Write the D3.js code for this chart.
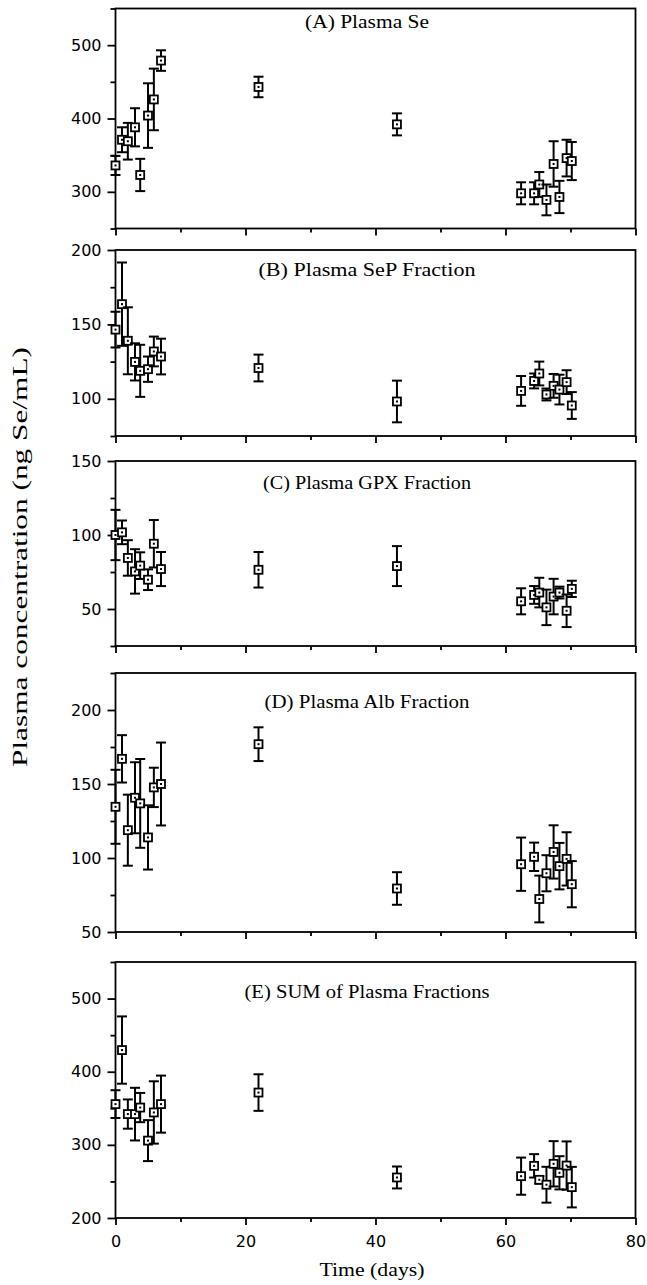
<!DOCTYPE html>
<html><head><meta charset="utf-8">
<script src="https://cdn.jsdelivr.net/npm/d3@7"></script>
<style>body{margin:0;background:#fff;} svg{display:block}</style>
</head><body>
<script>
// ---- data ----
const days = [0, 1, 1.9, 3, 3.8, 5, 5.9, 7, 22, 43.3, 62.4, 64.4, 65.2, 66.3, 67.4, 68.3, 69.4, 70.2];

const seMean  = [336, 371, 369, 388, 323, 404, 426, 479, 443, 392, 298, 298, 310, 289, 338, 293, 346, 342];
const seErr   = [13, 17, 25, 26, 22, 44, 42, 14, 14, 15, 15, 15, 17, 21, 31, 22, 25, 26];

const sepMean = [146.5, 163.6, 139, 124.8, 118.8, 119.9, 131.8, 128.4, 120.7, 98.2, 105.3, 112, 117, 102.9, 108.7, 106.2, 111.2, 95.5];
const sepErr  = [12, 28, 22.5, 12.5, 17.5, 8.5, 10, 12, 9, 14, 10, 5, 8, 4, 8, 10, 8, 9];

const gpxMean = [100, 101.8, 84.5, 75.4, 79.3, 69.8, 94.1, 77, 76.5, 79, 55.2, 59.5, 61.1, 51.1, 58.4, 61.1, 48.8, 63.6];
const gpxErr  = [17, 8, 12, 15, 9, 7, 16, 11.5, 12, 13.5, 8.8, 6, 10, 12, 12, 4, 11, 5.5];

const albMean = [134.6, 167, 118.8, 140.7, 136.9, 113.9, 147.7, 150, 176.9, 79.4, 95.8, 100.8, 72.3, 89.7, 104.1, 94.5, 99.4, 82.3];
const albErr  = [25, 16, 24, 24, 30, 21.7, 13.3, 28, 11.4, 11, 18, 9.6, 15.8, 12.2, 18, 15.7, 18, 15.6];

const sumMean = [355.7, 429.6, 342.1, 342, 351, 305.8, 344.3, 355.7, 371.5, 255.4, 257.2, 271.3, 252.2, 245.5, 274.1, 261.8, 271.7, 242.2];
const sumErr  = [19, 46, 20, 36, 20, 28, 42.6, 39, 25, 15, 25.4, 16, 5, 24.5, 31, 22.7, 33, 27.7];

const titles = ["(A) Plasma Se", "(B) Plasma SeP Fraction", "(C) Plasma GPX Fraction", "(D) Plasma Alb Fraction", "(E) SUM of Plasma Fractions"];
const yDomains = [[250, 550], [75, 200], [25, 150], [50, 225], [200, 550]];
const yMajor = [[300, 400, 500], [100, 150, 200], [50, 100, 150], [50, 100, 150, 200], [200, 300, 400, 500]];
const yMinorStep = [50, 25, 25, 25, 50];
const xTicks = [0, 20, 40, 60, 80];
const xMinor = [10, 30, 50, 70];
const xLabel = "Time (days)";
const yLabel = "Plasma concentration (ng Se/mL)";

// ---- layout ----
const W = 647, H = 1285;
const panelBox = [[8.5, 228.5], [250, 436], [461, 646], [673, 932], [962, 1218]];
const titleY = [28, 276, 489, 708, 998];
const titleW = [124, 217, 208, 205, 245];
const means = [seMean, sepMean, gpxMean, albMean, sumMean];
const errs = [seErr, sepErr, gpxErr, albErr, sumErr];

const svg = d3.select("body").append("svg").attr("width", W).attr("height", H);
const x = d3.scaleLinear().domain([0, 80]).range([115.5, 635.5]);

panelBox.forEach((pb, i) => {
  const y = d3.scaleLinear().domain(yDomains[i]).range([pb[1], pb[0]]);
  const g = svg.append("g");
  // frame
  g.append("rect").attr("x", x(0)).attr("y", pb[0]).attr("width", x(80) - x(0)).attr("height", pb[1] - pb[0])
    .attr("fill", "none").attr("stroke", "#000").attr("stroke-width", 1.8);
  // y axis major
  const ya = d3.axisLeft(y).tickValues(yMajor[i]).tickSize(8).tickFormat(d3.format("d"));
  const yag = g.append("g").attr("transform", `translate(${x(0)},0)`).call(ya);
  yag.select(".domain").remove();
  yag.selectAll("line").attr("stroke-width", 1.8);
  yag.selectAll("text").attr("font-family", "DejaVu Sans").attr("font-size", 16).attr("fill", "#000").attr("x", -14);
  // y minor
  const minors = d3.range(yDomains[i][0], yDomains[i][1] + 0.1, yMinorStep[i]).filter(v => !yMajor[i].includes(v));
  const ym = d3.axisLeft(y).tickValues(minors).tickSize(5).tickFormat("");
  const ymg = g.append("g").attr("transform", `translate(${x(0)},0)`).call(ym);
  ymg.select(".domain").remove();
  ymg.selectAll("line").attr("stroke-width", 1.8);
  // x axis
  const xa = d3.axisBottom(x).tickValues(xTicks).tickSize(7).tickFormat(i === 4 ? d3.format("d") : "");
  const xag = g.append("g").attr("transform", `translate(0,${pb[1]})`).call(xa);
  xag.select(".domain").remove();
  xag.selectAll("line").attr("stroke-width", 1.8);
  xag.selectAll("text").attr("font-family", "DejaVu Sans").attr("font-size", 16).attr("fill", "#000").attr("y", 18);
  const xm = d3.axisBottom(x).tickValues(xMinor).tickSize(4).tickFormat("");
  const xmg = g.append("g").attr("transform", `translate(0,${pb[1]})`).call(xm);
  xmg.select(".domain").remove();
  xmg.selectAll("line").attr("stroke-width", 1.8);
  // title
  g.append("text").attr("x", 367).attr("y", titleY[i]).attr("text-anchor", "middle")
    .attr("font-family", "Liberation Serif").attr("font-size", 18)
    .attr("textLength", titleW[i]).attr("lengthAdjust", "spacingAndGlyphs")
    .text(titles[i]);
  // points
  const pts = days.map((d, k) => ({d, m: means[i][k], e: errs[i][k]}));
  const pg = g.selectAll("g.pt").data(pts).join("g").attr("class", "pt");
  pg.append("line").attr("x1", p => x(p.d)).attr("x2", p => x(p.d))
    .attr("y1", p => y(p.m + p.e)).attr("y2", p => y(p.m - p.e)).attr("stroke", "#000").attr("stroke-width", 2);
  pg.append("line").attr("x1", p => x(p.d) - 5).attr("x2", p => x(p.d) + 5)
    .attr("y1", p => y(p.m + p.e)).attr("y2", p => y(p.m + p.e)).attr("stroke", "#000").attr("stroke-width", 2);
  pg.append("line").attr("x1", p => x(p.d) - 5).attr("x2", p => x(p.d) + 5)
    .attr("y1", p => y(p.m - p.e)).attr("y2", p => y(p.m - p.e)).attr("stroke", "#000").attr("stroke-width", 2);
  pg.append("rect").attr("x", p => x(p.d) - 4).attr("y", p => y(p.m) - 4).attr("width", 8).attr("height", 8)
    .attr("fill", "#fff").attr("stroke", "#000").attr("stroke-width", 1.8);
  pg.append("rect").attr("x", p => x(p.d) - 1).attr("y", p => y(p.m) - 1).attr("width", 2).attr("height", 2)
    .attr("fill", "#000");
});

svg.append("text").attr("x", 372).attr("y", 1276).attr("text-anchor", "middle")
  .attr("font-family", "Liberation Serif").attr("font-size", 18)
  .attr("textLength", 105).attr("lengthAdjust", "spacingAndGlyphs").text(xLabel);
svg.append("text").attr("transform", "translate(27,557) rotate(-90)").attr("text-anchor", "middle")
  .attr("font-family", "Liberation Serif").attr("font-size", 21)
  .attr("textLength", 420).attr("lengthAdjust", "spacingAndGlyphs").text(yLabel);
</script>
</body></html>
